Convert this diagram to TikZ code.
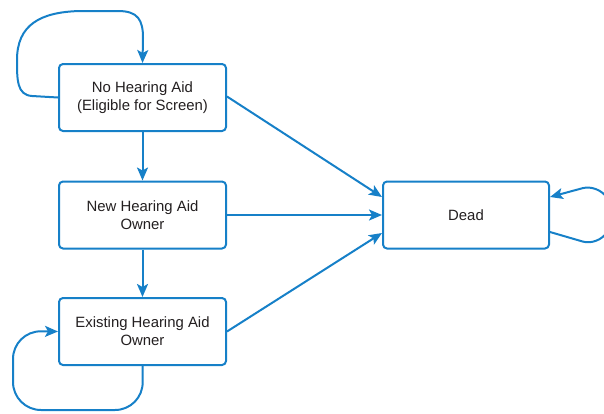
\documentclass[tikz,border=0pt]{standalone}
\usepackage{fontspec}
\setmainfont{Liberation Sans}
\usetikzlibrary{arrows.meta}
\definecolor{lnblue}{RGB}{22,128,200}
\definecolor{txt}{RGB}{35,31,32}
\begin{document}
\begin{tikzpicture}[x=1pt,y=-1pt,
  statebox/.style={draw=lnblue,line width=2pt,rounded corners=4pt,minimum width=167pt,minimum height=67pt,inner sep=0pt,align=center,font=\fontsize{14.9}{18}\selectfont,text=txt},
  conn/.style={draw=lnblue,line width=2pt,-{Stealth[length=13pt,width=11pt,inset=3pt]}}]
\useasboundingbox (0,0) rectangle (604,413);
\clip (0,0) rectangle (604,413);
\node[statebox] (nha) at (142.5,97.5) {No Hearing Aid\\(Eligible for Screen)};
\node[statebox] (new) at (142.5,215) {New Hearing Aid\\Owner};
\node[statebox] (ex) at (142.5,331.5) {Existing Hearing Aid\\Owner};
\node[statebox,minimum width=166pt] (dead) at (466,215) {Dead};
\draw[conn] (nha) -- (new);
\draw[conn] (new) -- (ex);
\draw[conn] ([yshift=1pt]nha.east) -- ([yshift=18pt]dead.west);
\draw[conn] (new.east) -- (dead.west);
\draw[conn] (ex.east) -- ([yshift=-18pt]dead.west);
\draw[conn] (nha.west) -- (32,96) .. controls (17,95) and (17,80) .. (17,60)
  .. controls (17,25) and (40,12) .. (80,11) -- (118,11)
  .. controls (138,11) and (143,20) .. (143,38) -- (nha.north);
\draw[conn,rounded corners=28pt] (ex.south) -- (143,410) -- (13,410) -- (13,331) -- (ex.west);
\draw[conn,rounded corners=16pt] ([yshift=-17pt]dead.east) -- (598,246) -- (618,215) -- (598,184) -- ([yshift=18pt]dead.east);
\end{tikzpicture}
\end{document}
